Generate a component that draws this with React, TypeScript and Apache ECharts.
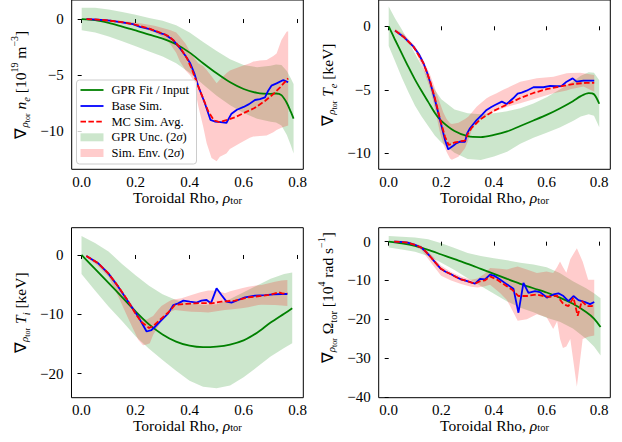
import React, { useEffect, useRef } from 'react';
import * as echarts from 'echarts';

// ---------- Panel 1: grad n_e ----------
const neGprX = [0, 0.05, 0.1, 0.15, 0.2, 0.25, 0.3, 0.35, 0.4, 0.45, 0.5, 0.55, 0.6, 0.65, 0.7, 0.72, 0.74, 0.76, 0.775, 0.785];
const neGprFit = [0, -0.1, -0.35, -0.68, -1.02, -1.4, -1.75, -2.25, -3.0, -3.95, -4.85, -5.65, -6.25, -6.6, -6.68, -6.65, -6.8, -7.5, -8.3, -8.9];
const neGprUpper = [1.0, 1.0, 0.85, 0.62, 0.38, 0.1, -0.15, -0.55, -1.2, -2.05, -2.85, -3.6, -4.1, -4.3, -4.18, -4.05, -4.1, -4.65, -5.3, -5.8];
const neGprLower = [-1.0, -1.2, -1.55, -1.98, -2.42, -2.9, -3.35, -3.95, -4.8, -5.85, -6.85, -7.7, -8.4, -8.9, -9.18, -9.25, -9.5, -10.35, -11.3, -12.0];
const neBaseX = [0.018, 0.06, 0.105, 0.15, 0.19, 0.216, 0.253, 0.29, 0.31, 0.339, 0.364, 0.385, 0.401, 0.418, 0.432, 0.456, 0.477, 0.493, 0.515, 0.536, 0.555, 0.575, 0.6, 0.62, 0.642, 0.66, 0.679, 0.691, 0.703, 0.722, 0.747, 0.765];
const neBaseY = [0, -0.05, -0.15, -0.3, -0.45, -0.7, -0.9, -1.25, -1.4, -1.88, -2.6, -3.3, -3.9, -4.9, -6.0, -7.5, -9.0, -9.15, -9.2, -9.28, -8.45, -8.1, -7.85, -7.6, -7.23, -7.15, -7.0, -6.4, -5.95, -5.75, -5.45, -5.65];
const neMcX = [0.018, 0.06, 0.105, 0.15, 0.19, 0.22, 0.25, 0.29, 0.32, 0.345, 0.37, 0.39, 0.41, 0.43, 0.45, 0.47, 0.49, 0.51, 0.54, 0.57, 0.6, 0.64, 0.68, 0.71, 0.735, 0.765];
const neMcY = [0, -0.05, -0.15, -0.28, -0.45, -0.65, -0.85, -1.2, -1.5, -2.0, -2.75, -3.5, -4.6, -5.9, -7.1, -8.3, -9.05, -9.2, -9.0, -8.75, -8.4, -7.95, -7.3, -6.7, -6.1, -5.3];
const neEnvX = [0.018, 0.1, 0.2, 0.27, 0.3, 0.327, 0.35, 0.364, 0.385, 0.401, 0.414, 0.432, 0.45, 0.463, 0.481, 0.5, 0.512, 0.536, 0.549, 0.586, 0.623, 0.636, 0.66, 0.685, 0.71, 0.722, 0.74, 0.759, 0.765];
const neEnvUpper = [0.05, -0.05, -0.3, -0.6, -0.8, -0.98, -1.2, -1.58, -2.2, -2.9, -3.4, -3.95, -4.2, -4.55, -5.1, -5.74, -5.4, -4.85, -4.6, -4.26, -3.95, -3.8, -3.7, -3.66, -3.3, -3.07, -1.88, -1.13, -1.1];
const neEnvLower = [-0.05, -0.25, -0.6, -1.2, -1.6, -2.2, -3.0, -3.8, -4.6, -5.0, -5.5, -7.8, -9.6, -11.1, -12.4, -12.7, -12.3, -12.0, -11.6, -11.1, -10.6, -10.5, -10.45, -10.4, -10.1, -9.9, -9.7, -9.55, -9.5];

// ---------- Panel 2: grad T_e ----------
const teGprX = [0, 0.025, 0.05, 0.075, 0.1, 0.125, 0.15, 0.175, 0.2, 0.25, 0.3, 0.35, 0.4, 0.45, 0.5, 0.55, 0.6, 0.65, 0.7, 0.73, 0.76, 0.78, 0.8];
const teGprFit = [0, -1.1, -2.15, -3.2, -4.2, -5.1, -5.95, -6.8, -7.45, -8.25, -8.65, -8.72, -8.55, -8.28, -7.85, -7.42, -6.98, -6.47, -5.9, -5.5, -5.27, -5.35, -6.1];
const teGprUpper = [1.55, 0.6, -0.25, -1.2, -2.15, -3.1, -4.05, -5.0, -5.75, -6.55, -6.85, -6.92, -6.85, -6.68, -6.45, -6.07, -5.58, -4.97, -4.35, -3.9, -3.62, -3.65, -4.25];
const teGprLower = [-1.55, -2.8, -4.05, -5.2, -6.25, -7.1, -7.85, -8.6, -9.15, -9.95, -10.45, -10.52, -10.25, -9.88, -9.25, -8.77, -8.38, -7.97, -7.45, -7.1, -6.92, -7.05, -7.95];
const teBaseX = [0.024, 0.056, 0.094, 0.115, 0.132, 0.145, 0.157, 0.176, 0.195, 0.214, 0.226, 0.245, 0.258, 0.271, 0.29, 0.298, 0.309, 0.334, 0.355, 0.372, 0.39, 0.404, 0.43, 0.448, 0.473, 0.49, 0.505, 0.524, 0.55, 0.588, 0.613, 0.638, 0.657, 0.676, 0.699, 0.714, 0.74, 0.781];
const teBaseY = [-0.34, -0.82, -1.6, -2.2, -2.91, -3.6, -4.36, -5.8, -7.38, -8.95, -9.69, -9.4, -9.2, -9.08, -9.1, -8.43, -8.03, -7.38, -6.95, -6.59, -6.35, -6.2, -5.93, -6.12, -5.67, -5.3, -5.22, -5.07, -4.8, -4.8, -4.7, -4.72, -4.7, -4.36, -4.1, -4.36, -4.28, -4.28];
const teMcX = [0.024, 0.056, 0.094, 0.132, 0.157, 0.176, 0.195, 0.214, 0.228, 0.25, 0.275, 0.29, 0.3, 0.315, 0.35, 0.4, 0.45, 0.5, 0.55, 0.6, 0.65, 0.7, 0.75, 0.781];
const teMcY = [-0.34, -0.82, -1.6, -2.9, -4.3, -5.7, -7.3, -8.7, -9.35, -9.15, -9.05, -9.0, -8.5, -8.0, -7.3, -6.65, -6.15, -5.65, -5.25, -4.95, -4.75, -4.55, -4.45, -4.45];
const teEnvX = [0.024, 0.06, 0.1, 0.13, 0.157, 0.176, 0.195, 0.208, 0.22, 0.233, 0.24, 0.265, 0.29, 0.302, 0.315, 0.334, 0.347, 0.372, 0.385, 0.41, 0.435, 0.448, 0.5, 0.563, 0.626, 0.676, 0.69, 0.727, 0.74, 0.781];
const teEnvUpper = [-0.2, -0.65, -1.55, -2.6, -3.8, -4.9, -6.06, -6.8, -7.3, -7.64, -7.7, -7.6, -7.3, -7.12, -6.8, -6.33, -6.1, -5.67, -5.5, -5.28, -5.0, -4.88, -4.36, -4.1, -3.97, -3.7, -3.68, -3.65, -3.7, -3.83];
const teEnvLower = [-0.45, -1.0, -1.9, -3.3, -4.9, -6.5, -8.4, -9.3, -9.9, -10.4, -10.5, -10.27, -9.6, -9.0, -8.2, -7.6, -7.38, -7.0, -6.85, -6.65, -6.46, -6.35, -6.06, -5.67, -5.28, -5.05, -4.96, -4.8, -4.75, -5.15];

// ---------- Panel 3: grad T_i ----------
const tiGprX = [0, 0.05, 0.1, 0.15, 0.2, 0.25, 0.3, 0.35, 0.4, 0.45, 0.5, 0.55, 0.6, 0.65, 0.7, 0.75, 0.78];
const tiGprFit = [0, -2.35, -4.7, -7.1, -9.5, -11.7, -13.4, -14.6, -15.3, -15.55, -15.45, -15.1, -14.4, -13.1, -11.4, -9.9, -9.0];
const tiGprUpper = [3.2, 2.0, 0.6, -1.5, -3.4, -5.2, -6.6, -7.6, -8.15, -8.4, -8.3, -7.4, -6.3, -5.15, -4.0, -3.2, -2.95];
const tiGprLower = [-3.2, -6.0, -8.7, -11.15, -13.7, -15.8, -17.7, -19.5, -21.2, -22.2, -22.45, -22.0, -20.6, -18.9, -17.1, -15.7, -14.9];
const tiBaseX = [0.018, 0.062, 0.099, 0.136, 0.173, 0.21, 0.241, 0.259, 0.272, 0.296, 0.321, 0.34, 0.358, 0.377, 0.401, 0.426, 0.444, 0.463, 0.479, 0.5, 0.518, 0.537, 0.555, 0.58, 0.605, 0.642, 0.679, 0.71, 0.741, 0.762];
const tiBaseY = [-0.17, -1.4, -3.1, -5.34, -7.87, -10.4, -12.9, -12.65, -12.1, -11.0, -9.84, -8.43, -8.15, -7.7, -7.87, -8.04, -7.7, -7.59, -8.15, -5.62, -6.75, -7.87, -8.04, -7.59, -7.14, -6.86, -6.75, -6.63, -6.58, -6.58];
const tiMcX = [0.018, 0.062, 0.099, 0.136, 0.173, 0.2, 0.222, 0.25, 0.265, 0.284, 0.321, 0.346, 0.383, 0.42, 0.45, 0.481, 0.518, 0.568, 0.617, 0.666, 0.7, 0.73, 0.745, 0.762];
const tiMcY = [-0.17, -1.4, -3.1, -5.3, -7.8, -9.9, -11.3, -12.3, -12.0, -11.2, -9.7, -8.43, -8.26, -8.15, -8.1, -8.15, -7.87, -7.7, -7.14, -6.9, -6.7, -6.3, -6.5, -6.46];
const tiEnvX = [0.018, 0.06, 0.1, 0.136, 0.173, 0.21, 0.228, 0.241, 0.253, 0.265, 0.284, 0.296, 0.321, 0.333, 0.346, 0.37, 0.407, 0.44, 0.469, 0.5, 0.531, 0.55, 0.568, 0.593, 0.617, 0.654, 0.666, 0.716, 0.74, 0.762];
const tiEnvUpper = [0.0, -1.1, -2.8, -5.0, -7.5, -9.9, -10.7, -10.9, -10.6, -10.3, -9.2, -8.6, -7.9, -7.6, -7.45, -7.3, -6.75, -6.3, -6.0, -6.0, -6.46, -6.1, -5.9, -5.6, -5.34, -5.1, -5.06, -4.5, -4.3, -4.2];
const tiEnvLower = [-0.35, -1.8, -3.66, -7.0, -10.7, -14.3, -15.2, -15.1, -14.9, -13.5, -12.0, -11.2, -9.84, -9.5, -9.27, -9.4, -9.56, -9.6, -9.7, -9.5, -9.27, -9.2, -9.1, -9.0, -8.8, -8.43, -8.4, -8.43, -8.5, -8.6];

// ---------- Panel 4: grad Omega_tor ----------
const omGprX = [0, 0.05, 0.1, 0.15, 0.2, 0.25, 0.3, 0.35, 0.4, 0.45, 0.5, 0.55, 0.6, 0.65, 0.7, 0.75, 0.78, 0.805];
const omGprFit = [0, -0.45, -1.1, -2.1, -3.3, -4.5, -5.7, -7.0, -8.3, -9.6, -10.85, -12.0, -13.1, -14.4, -16.0, -18.1, -19.8, -22.0];
const omGprUpper = [1.45, 1.3, 1.05, 0.6, -0.4, -1.6, -2.9, -3.7, -4.3, -4.8, -5.4, -5.9, -6.6, -8.1, -10.2, -12.0, -13.3, -14.6];
const omGprLower = [-1.53, -2.0, -2.6, -3.7, -5.4, -7.3, -9.4, -11.4, -13.4, -15.4, -17.0, -18.2, -19.6, -20.6, -22.4, -25.0, -27.0, -29.3];
const omBaseX = [0.021, 0.045, 0.072, 0.1, 0.123, 0.14, 0.161, 0.18, 0.199, 0.218, 0.237, 0.256, 0.275, 0.295, 0.313, 0.328, 0.347, 0.366, 0.385, 0.404, 0.423, 0.449, 0.474, 0.493, 0.512, 0.531, 0.556, 0.575, 0.601, 0.626, 0.645, 0.664, 0.683, 0.702, 0.721, 0.746, 0.765, 0.781];
const omBaseY = [0, -0.05, -0.26, -0.8, -1.5, -2.5, -4.08, -5.6, -7.06, -7.8, -8.4, -9.1, -9.7, -10.1, -10.5, -10.8, -9.6, -9.7, -8.5, -8.9, -9.77, -11.0, -12.1, -18.3, -10.6, -13.2, -12.75, -13.0, -14.4, -13.6, -13.3, -14.0, -15.3, -14.0, -15.05, -15.56, -16.1, -15.56];
const omMcX = [0.021, 0.045, 0.072, 0.1, 0.123, 0.14, 0.161, 0.18, 0.199, 0.218, 0.237, 0.256, 0.275, 0.295, 0.313, 0.328, 0.347, 0.366, 0.385, 0.411, 0.449, 0.468, 0.493, 0.525, 0.563, 0.588, 0.613, 0.639, 0.664, 0.683, 0.702, 0.718, 0.734, 0.753, 0.772, 0.781];
const omMcY = [0, -0.05, -0.26, -0.8, -1.5, -2.5, -4.08, -5.6, -7.0, -7.8, -8.4, -9.1, -9.7, -10.1, -10.5, -10.8, -10.2, -9.95, -8.93, -9.77, -11.5, -12.3, -14.0, -14.0, -13.6, -14.0, -14.2, -13.9, -16.1, -16.6, -14.4, -19.1, -15.3, -16.6, -16.6, -16.0];
const omEnvX = [0.021, 0.072, 0.123, 0.161, 0.199, 0.237, 0.275, 0.313, 0.338, 0.366, 0.385, 0.423, 0.449, 0.468, 0.49, 0.525, 0.563, 0.6, 0.625, 0.64, 0.651, 0.662, 0.675, 0.69, 0.715, 0.737, 0.758, 0.781];
const omEnvUpper = [0.3, 0.1, -1.0, -3.3, -6.2, -7.8, -9.0, -9.8, -9.5, -8.2, -6.8, -7.0, -7.2, -6.8, -6.4, -7.2, -8.1, -7.7, -8.1, -6.5, -5.1, -6.5, -8.0, -4.5, -1.7, -5.1, -9.8, -9.8];
const omEnvLower = [-0.3, -0.6, -2.0, -5.4, -8.75, -10.0, -10.9, -11.6, -11.8, -11.5, -11.1, -13.2, -15.0, -17.5, -20.4, -20.0, -18.7, -19.5, -22.5, -20.5, -25.1, -27.4, -27.0, -25.1, -37.4, -25.1, -24.5, -24.2];

// ---------- Tick values / labels ----------
const xTicks = [0, 0.2, 0.4, 0.6, 0.8];
const neTicks = [0, -5, -10];
const teTicks = [0, -5, -10];
const tiTicks = [0, -10, -20];
const omTicks = [0, -10, -20, -30, -40];
const legendLabels = ['GPR Fit / Input', 'Base Sim.', 'MC Sim. Avg.', 'GPR Unc. (2{i|σ})', 'Sim. Env. (2{i|σ})'];

const SERIF = 'Liberation Serif';
const GREEN = '#008000';
const BLUE = '#0000ff';
const RED = '#ff0000';
const GREEN_FILL = 'rgba(0,128,0,0.2)';
const RED_FILL = 'rgba(255,0,0,0.2)';
const LW = 1.8;

const pairs = (xs: number[], ys: number[]) => xs.map((x, i) => [x, ys[i]]);

function bandSeries(idx: number, xs: number[], up: number[], lo: number[], fill: string) {
  const data = xs.map((x, i) => [x, up[i], lo[i]]);
  return {
    type: 'custom',
    xAxisIndex: idx,
    yAxisIndex: idx,
    silent: true,
    clip: true,
    data,
    encode: { x: 0, y: [1, 2] },
    renderItem: (params: any, api: any) => {
      if (params.dataIndex !== 0) return null;
      const top = data.map((d) => api.coord([d[0], d[1]]));
      const bot = data.map((d) => api.coord([d[0], d[2]])).reverse();
      return {
        type: 'polygon',
        shape: { points: top.concat(bot) },
        style: { fill, stroke: 'none' },
      };
    },
  };
}

function lineSeries(idx: number, data: number[][], color: string, dashed: boolean, smooth: number) {
  return {
    type: 'line',
    xAxisIndex: idx,
    yAxisIndex: idx,
    data,
    symbol: 'none',
    showSymbol: false,
    smooth,
    silent: true,
    clip: true,
    lineStyle: { color, width: LW, type: dashed ? [5.5, 2.4] : 'solid' },
  };
}

const yRich: any = {
  s: { fontFamily: SERIF, fontSize: 11, fontStyle: 'italic', verticalAlign: 'bottom', lineHeight: 12, padding: [0, 0, 2, 0], color: '#000' },
  ss: { fontFamily: SERIF, fontSize: 8, verticalAlign: 'bottom', lineHeight: 8, color: '#000' },
  it: { fontFamily: SERIF, fontSize: 15.5, fontStyle: 'italic', lineHeight: 22, color: '#000' },
  sub: { fontFamily: SERIF, fontSize: 10.5, verticalAlign: 'bottom', lineHeight: 11, color: '#000' },
  subi: { fontFamily: SERIF, fontSize: 10.5, fontStyle: 'italic', verticalAlign: 'bottom', lineHeight: 11, color: '#000' },
  sup: { fontFamily: SERIF, fontSize: 10, verticalAlign: 'top', lineHeight: 11, color: '#000' },
};

const xRich: any = {
  it: { fontFamily: SERIF, fontSize: 15.5, fontStyle: 'italic', lineHeight: 16, color: '#000' },
  sub: { fontFamily: SERIF, fontSize: 10.5, verticalAlign: 'bottom', lineHeight: 4, color: '#000' },
};

const fmtY = (v: number) => (v === 0 ? '0' : (v < 0 ? '\u2212' : '') + Math.abs(v));

const panels = [
  {
    grid: { left: 71.7, top: 0, width: 231.6, height: 169.3 },
    xMin: -0.037, xMax: 0.821, yMin: -13.42, yMax: 1.7, yTicks: neTicks, xGap: 20.5, yShift: 0,
    yName: '\u2207{s|ρ}{ss|tor} {it|n}{subi|e} [10{sup|19} m{sup|\u22123}]',
    gpr: [neGprX, neGprFit, neGprUpper, neGprLower], base: [neBaseX, neBaseY], mc: [neMcX, neMcY], env: [neEnvX, neEnvUpper, neEnvLower],
  },
  {
    grid: { left: 378.7, top: 0, width: 231.6, height: 169.3 },
    xMin: -0.038, xMax: 0.842, yMin: -11.26, yMax: 2.07, yTicks: teTicks, xGap: 20.5, yShift: 0,
    yName: '\u2207{s|ρ}{ss|tor} {it|T}{subi|e} [keV]',
    gpr: [teGprX, teGprFit, teGprUpper, teGprLower], base: [teBaseX, teBaseY], mc: [teMcX, teMcY], env: [teEnvX, teEnvUpper, teEnvLower],
  },
  {
    grid: { left: 71.5, top: 227.7, width: 231.8, height: 170 },
    xMin: -0.037, xMax: 0.821, yMin: -24.06, yMax: 4.6, yTicks: tiTicks, xGap: 19.5, yShift: 0,
    yName: '\u2207{s|ρ}{ss|tor} {it|T}{subi|i} [keV]',
    gpr: [tiGprX, tiGprFit, tiGprUpper, tiGprLower], base: [tiBaseX, tiBaseY], mc: [tiMcX, tiMcY], env: [tiEnvX, tiEnvUpper, tiEnvLower],
  },
  {
    grid: { left: 378.7, top: 227.7, width: 231.6, height: 170 },
    xMin: -0.038, xMax: 0.842, yMin: -40.2, yMax: 3.6, yTicks: omTicks, xGap: 19.5, yShift: 30,
    yName: '\u2207{s|ρ}{ss|tor} Ω{sub|tor} [10{sup|4} rad s{sup|\u22121}]',
    gpr: [omGprX, omGprFit, omGprUpper, omGprLower], base: [omBaseX, omBaseY], mc: [omMcX, omMcY], env: [omEnvX, omEnvUpper, omEnvLower],
  },
];

function buildOption() {
  const grid = panels.map((p) => ({ ...p.grid, show: true, borderColor: '#000', borderWidth: 1, backgroundColor: 'transparent' }));
  const xAxis = panels.map((p, i) => ({
    type: 'value', gridIndex: i, min: p.xMin, max: p.xMax,
    axisLine: { show: false },
    splitLine: { show: false },
    axisTick: { show: true, length: 4, customValues: xTicks, lineStyle: { color: '#000', width: 1 } },
    axisLabel: { customValues: xTicks, formatter: (v: number) => v.toFixed(1), fontFamily: SERIF, fontSize: 15, lineHeight: 15, color: '#000', margin: 5 },
    name: 'Toroidal Rho, {it|ρ}{sub|tor}',
    nameLocation: 'middle', nameGap: p.xGap, nameMoveOverlap: false,
    nameTextStyle: { fontFamily: SERIF, fontSize: 15.5, color: '#000', lineHeight: 16, rich: xRich },
  }));
  const yAxis = panels.map((p, i) => ({
    type: 'value', gridIndex: i, min: p.yMin, max: p.yMax,
    axisLine: { show: false },
    splitLine: { show: false },
    axisTick: { show: true, length: 4, customValues: p.yTicks, lineStyle: { color: '#000', width: 1 } },
    axisLabel: { customValues: p.yTicks, formatter: fmtY, fontFamily: SERIF, fontSize: 15, color: '#000', margin: 8 },
    name: p.yName,
    nameLocation: 'middle', nameGap: 40, nameRotate: 90, nameMoveOverlap: false,
    nameTextStyle: { fontFamily: SERIF, fontSize: 15.5, color: '#000', lineHeight: 22, rich: yRich, padding: [0, 0, 0, p.yShift] },
  }));
  const series: any[] = [];
  panels.forEach((p, i) => {
    series.push(bandSeries(i, p.gpr[0], p.gpr[2], p.gpr[3], GREEN_FILL));
    series.push(bandSeries(i, p.env[0], p.env[1], p.env[2], RED_FILL));
    series.push(lineSeries(i, pairs(p.gpr[0], p.gpr[1]), GREEN, false, 0.3));
    series.push(lineSeries(i, pairs(p.base[0], p.base[1]), BLUE, false, 0));
    series.push(lineSeries(i, pairs(p.mc[0], p.mc[1]), RED, true, 0));
  });

  const rowY = [90, 106, 121.7, 137.3, 153];
  const hx1 = 80.5, hx2 = 103.5, tx = 111.5;
  const graphic: any[] = [
    { type: 'rect', z: 100, silent: true, shape: { x: 76.5, y: 80, width: 120, height: 84, r: 3 }, style: { fill: 'rgba(255,255,255,0.8)', stroke: '#cccccc', lineWidth: 1 } },
    { type: 'line', z: 101, silent: true, shape: { x1: hx1, y1: rowY[0], x2: hx2, y2: rowY[0] }, style: { stroke: GREEN, lineWidth: LW } },
    { type: 'line', z: 101, silent: true, shape: { x1: hx1, y1: rowY[1], x2: hx2, y2: rowY[1] }, style: { stroke: BLUE, lineWidth: LW } },
    { type: 'line', z: 101, silent: true, shape: { x1: hx1, y1: rowY[2], x2: hx2, y2: rowY[2] }, style: { stroke: RED, lineWidth: LW, lineDash: [5.5, 2.4] } },
    { type: 'rect', z: 101, silent: true, shape: { x: hx1, y: rowY[3] - 4, width: hx2 - hx1, height: 8 }, style: { fill: GREEN_FILL } },
    { type: 'rect', z: 101, silent: true, shape: { x: hx1, y: rowY[4] - 4, width: hx2 - hx1, height: 8 }, style: { fill: RED_FILL } },
  ];
  legendLabels.forEach((t, k) => {
    graphic.push({
      type: 'text', z: 102, silent: true, x: tx, y: rowY[k],
      style: {
        text: t, fontFamily: SERIF, fontSize: 12.5, fill: '#000', verticalAlign: 'middle', align: 'left',
        rich: { i: { fontFamily: SERIF, fontSize: 12.5, fontStyle: 'italic', fill: '#000' } },
      },
    });
  });

  return { animation: false, backgroundColor: '#fff', textStyle: { fontFamily: SERIF }, grid, xAxis, yAxis, series, graphic };
}

export default function App() {
  const ref = useRef<HTMLDivElement>(null);
  useEffect(() => {
    if (!ref.current) return;
    const chart = echarts.init(ref.current, undefined, { renderer: 'svg' });
    chart.setOption(buildOption() as any);
    return () => chart.dispose();
  }, []);
  return <div ref={ref} style={{ position: 'absolute', left: 0, top: 0, width: 622, height: 442 }} />;
}
